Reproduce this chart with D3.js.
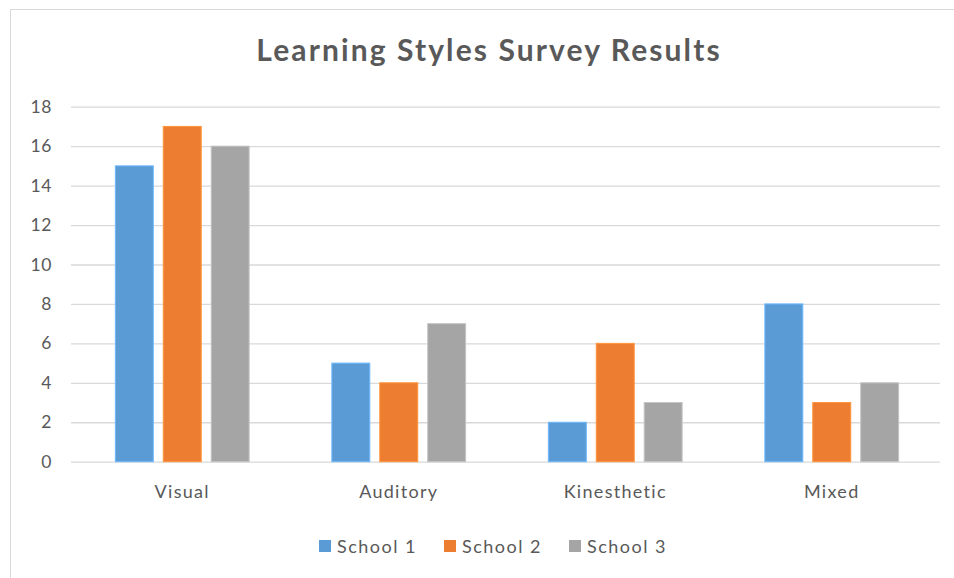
<!DOCTYPE html>
<html>
<head>
<meta charset="utf-8">
<script src="https://cdn.jsdelivr.net/npm/d3@7"></script>
<style>
  body { margin: 0; background: #fff; }
  svg text { font-family: Lato, "Open Sans", sans-serif; fill: #595959; }
</style>
</head>
<body>
<svg id="chart" width="954" height="578"></svg>
<script>
// chart data
const categories = ["Visual", "Auditory", "Kinesthetic", "Mixed"];
const seriesNames = ["School 1", "School 2", "School 3"];
const school1 = [15, 5, 2, 8];
const school2 = [17, 4, 6, 3];
const school3 = [16, 7, 3, 4];
const yTicks = [0, 2, 4, 6, 8, 10, 12, 14, 16, 18];
const colors = ["#5b9bd5", "#ed7d31", "#a5a5a5"];

var svg = d3.select("#chart"),
  margin = { top: 106.7, left: 71, bottom: 116.3, right: 14 },
  width = +svg.attr("width"),
  height = +svg.attr("height");

// outer chart frame (only top/left edges are visible)
svg.append("rect")
  .attr("x", 10.5).attr("y", 9.5)
  .attr("width", 980).attr("height", 620)
  .attr("fill", "#fff")
  .attr("stroke", "#d9d9d9");

var values = [school1, school2, school3];
var data = categories.map((c, i) => ({
  cat: c,
  vals: seriesNames.map((s, j) => ({ key: s, idx: j, value: values[j][i] }))
}));

var y = d3.scaleLinear()
  .domain([0, 18])
  .range([height - margin.bottom, margin.top]);

var x0 = d3.scaleBand()
  .domain(categories)
  .range([74, width - margin.right])
  .paddingInner(0.382)
  .paddingOuter(0.191);

var x1 = d3.scaleBand()
  .domain(seriesNames)
  .range([0, x0.bandwidth()])
  .paddingInner(0.208);

// title
svg.append("text")
  .attr("x", 489)
  .attr("y", 61)
  .attr("text-anchor", "middle")
  .style("font-size", "30px")
  .style("font-weight", "bold")
  .style("letter-spacing", "2.1px")
  .text("Learning Styles Survey Results");

// gridlines + y axis
var yAxis = svg.append("g")
  .attr("transform", `translate(${margin.left},0)`)
  .call(d3.axisLeft(y)
    .tickValues(yTicks)
    .tickSize(-(width - margin.right - margin.left))
    .tickPadding(19));

yAxis.select(".domain").remove();
yAxis.selectAll(".tick line").attr("stroke", "#d9d9d9").attr("stroke-width", 1.3);
yAxis.selectAll(".tick text")
  .style("font-size", "17.5px")
  .style("letter-spacing", "0.6px")
  .attr("fill", "#595959");

// bars
var group = svg.selectAll("g.cat")
  .data(data)
  .enter()
  .append("g")
  .attr("class", "cat")
  .attr("transform", (d) => `translate(${x0(d.cat)},0)`);

group.selectAll("rect")
  .data((d) => d.vals)
  .enter()
  .append("rect")
  .attr("x", (d) => x1(d.key))
  .attr("y", (d) => y(d.value))
  .attr("width", x1.bandwidth())
  .attr("height", (d) => y(0) - y(d.value))
  .attr("fill", (d) => colors[d.idx])
  .attr("stroke", (d) => d3.color(colors[d.idx]).brighter(0.5))
  .attr("stroke-width", 1);

// category labels
svg.selectAll(".cat-label")
  .data(categories)
  .enter()
  .append("text")
  .attr("class", "cat-label")
  .attr("x", (d) => x0(d) + x0.bandwidth() / 2)
  .attr("y", 498)
  .attr("text-anchor", "middle")
  .style("font-size", "18px")
  .style("letter-spacing", "1.3px")
  .text((d) => d);

// legend
var legend = svg.selectAll(".legend")
  .data(seriesNames)
  .enter()
  .append("g")
  .attr("class", "legend")
  .attr("transform", (d, i) => `translate(${319 + i * 125},540)`);

legend.append("rect")
  .attr("width", 12)
  .attr("height", 12)
  .attr("fill", (d, i) => colors[i]);

legend.append("text")
  .attr("x", 18)
  .attr("y", 12.5)
  .style("font-size", "18px")
  .style("letter-spacing", "1.5px")
  .text((d) => d);
</script>
</body>
</html>
